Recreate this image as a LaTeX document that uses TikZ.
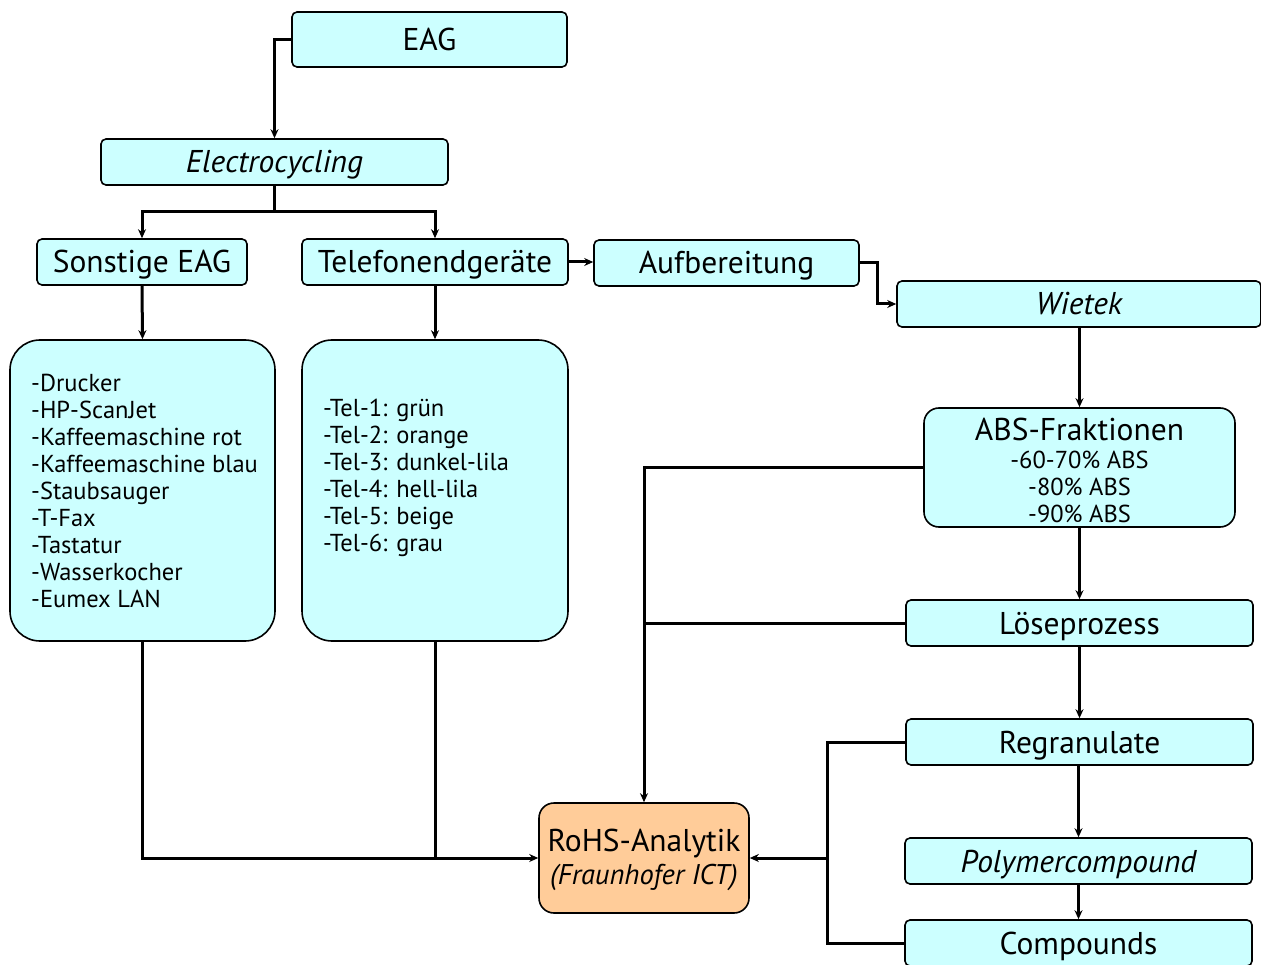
\documentclass[tikz,border=0pt]{standalone}
\usepackage{fontspec}
\setmainfont{PT Sans}
\usetikzlibrary{arrows.meta}
\definecolor{boxcyan}{HTML}{CCFFFF}
\definecolor{boxorange}{HTML}{FFCC99}
\newcommand{\mainsize}{\fontsize{31.5}{34}\selectfont}
\newcommand{\subsize}{\fontsize{24.5}{27}\selectfont}
\newcommand{\labsize}{\fontsize{28.5}{32}\selectfont}
\begin{document}
\begin{tikzpicture}[x=1pt,y=-1pt,
  box/.style={draw, line width=1.6pt, fill=boxcyan, rounded corners=5pt,
    inner sep=0pt, font=\mainsize, text height=24pt, text depth=2pt},
  panel/.style={draw, line width=1.6pt, fill=boxcyan, inner sep=0pt},
  listtext/.style={anchor=west, align=left, inner sep=0pt, font=\subsize},
  conn/.style={line width=3pt},
  arr/.style={conn, -{Stealth[length=9pt,width=8pt]}}]
\useasboundingbox (0,0) rectangle (1261,965);

% top of the tree
\node[box, minimum width=275pt, minimum height=55pt] (eag) at (429.5,39.5) {EAG};
\node[box, minimum width=347pt, minimum height=46pt] (elec) at (274.5,162) {\itshape Electrocycling};
\node[box, minimum width=210pt, minimum height=46pt] (sonst) at (142,262) {Sonstige EAG};
\node[box, minimum width=266pt, minimum height=46pt] (tel) at (435,262) {Telefonendgeräte};
\node[box, minimum width=265pt, minimum height=46pt] (aufb) at (726.5,263) {Aufbereitung};
\node[box, minimum width=364pt, minimum height=46pt] (wietek) at (1079,304) {\itshape Wietek};

% device lists
\node[panel, rounded corners=30pt, minimum width=265pt, minimum height=301pt] (lsonst) at (142.5,490.5) {};
\node[listtext] (lsonsttxt) at (31,491) {-Drucker\\-HP-ScanJet\\-Kaffeemaschine rot\\-Kaffeemaschine blau\\-Staubsauger\\-T-Fax\\-Tastatur\\-Wasserkocher\\-Eumex LAN};
\node[panel, rounded corners=30pt, minimum width=266pt, minimum height=301pt] (ltel) at (435,490.5) {};
\node[listtext] (lteltxt) at (323,477.5) {-Tel-1: grün\\-Tel-2: orange\\-Tel-3: dunkel-lila\\-Tel-4: hell-lila\\-Tel-5: beige\\-Tel-6: grau};

% processing chain
\node[panel, rounded corners=15pt, minimum width=311pt, minimum height=119pt] (abs) at (1079.5,467.5) {};
\node[inner sep=0pt, font=\mainsize] (abstitle) at (1079.5,429) {ABS-Fraktionen};
\node[align=center, inner sep=0pt, font=\subsize] (abstxt) at (1079.5,487) {-60-70\% ABS\\-80\% ABS\\-90\% ABS};
\node[box, minimum width=347pt, minimum height=46pt] (loese) at (1079.5,623) {Löseprozess};
\node[box, minimum width=347pt, minimum height=46pt] (regr) at (1079.5,742) {Regranulate};
\node[box, minimum width=347pt, minimum height=46pt] (poly) at (1078.5,861) {\itshape Polymercompound};
\node[box, minimum width=347pt, minimum height=46pt] (comp) at (1078.5,943) {Compounds};

% analysis
\node[panel, fill=boxorange, rounded corners=15pt, minimum width=210pt, minimum height=110pt] (rohs) at (644,858) {};
\node[inner sep=0pt, font=\mainsize] (rohstitle) at (644,844) {RoHS-Analytik};
\node[inner sep=0pt, font=\labsize\itshape] (rohssub) at (644,877) {(Fraunhofer ICT)};

% connectors
\draw[arr] (eag.west) -| (elec.north);
\coordinate (split) at (274.5,212);
\draw[conn] (elec.south) -- (split);
\draw[arr] (split) -| (sonst.north);
\draw[arr] (split) -| (tel.north);
\draw[arr] (sonst.south) -- (lsonst.north);
\draw[arr] (tel.south) -- (ltel.north);
\draw[arr] (tel.east) -- (tel.east -| aufb.west);
\draw[arr] (aufb.east) -- ++(18,0) |- (wietek.west);
\draw[arr] (wietek.south -| abs.north) -- (abs.north);
\draw[arr] (abs.south) -- (loese.north);
\draw[arr] (loese.south) -- (loese.south |- regr.north);
\draw[arr] (regr.south -| poly.north) -- (poly.north);
\draw[arr] (poly.south) -- (comp.north);

\draw[arr] (lsonst.south) |- (rohs.west);
\draw[conn] (ltel.south) -- (ltel.south |- rohs.west);
\draw[arr] (abs.west) -| (rohs.north);
\draw[conn] (loese.west) -- (loese.west -| rohs.north);
\coordinate (bus) at (827,858);
\draw[conn] (regr.west) -| (bus) |- (comp.west);
\draw[arr] (bus) -- (rohs.east);
\end{tikzpicture}
\end{document}
